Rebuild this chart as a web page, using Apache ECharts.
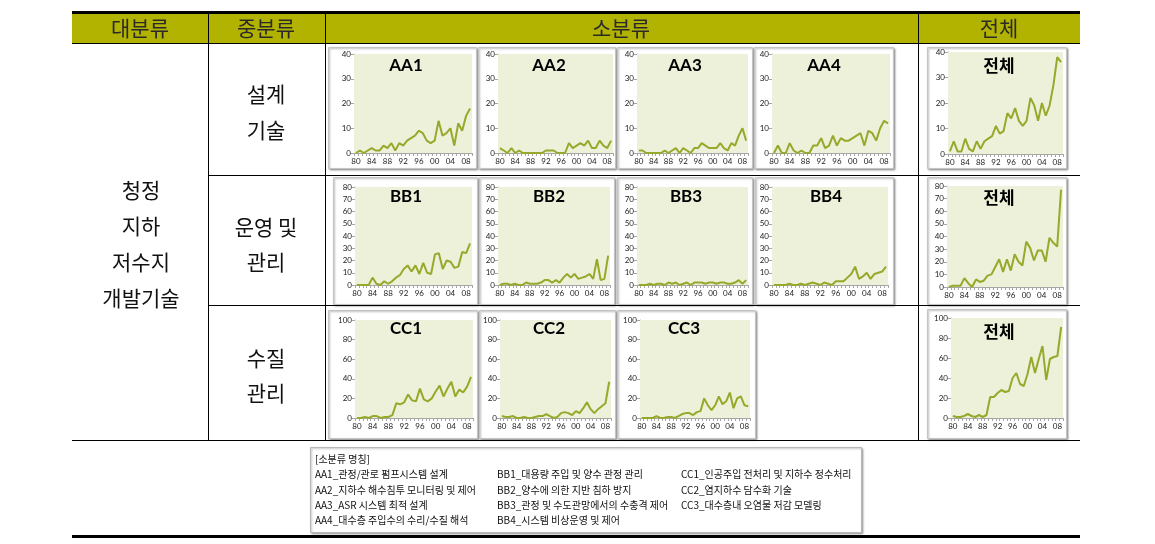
<!DOCTYPE html>
<html><head><meta charset="utf-8">
<script src="https://cdn.jsdelivr.net/npm/echarts@6/dist/echarts.min.js"></script>
<style>html,body{margin:0;padding:0;background:#fff}#c{width:1155px;height:544px}</style>
</head><body><div id="c"></div>
<script>
// ---- data ----
const years = ['80','81','82','83','84','85','86','87','88','89','90','91','92','93','94','95','96','97','98','99','00','01','02','03','04','05','06','07','08','09'];
const AA1 = [0,1,0,1,2,1,1,3,2,4,1,4,3,5,6,7,9,8,5,4,5,13,7,8,10,3,12,9,15,18];
const AA2 = [2,1,0,2,0,1,0,0,0,0,0,0,1,1,1,0,0,0,4,2,3,4,3,5,2,2,5,3,2,5];
const AA3 = [1,1,0,0,0,0,0,1,0,1,2,0,2,1,0,2,2,4,3,2,2,2,4,2,1,4,3,7,10,5];
const AA4 = [0,3,0,0,4,1,0,1,0,0,3,3,6,2,3,7,3,6,5,5,6,7,8,3,9,8,5,10,13,12];
const TOT_A = [1,5,1,1,6,2,1,5,2,5,6,7,11,8,9,16,14,18,13,11,13,22,19,13,20,15,19,27,38,36];
const BB1 = [0,0,0,0,6,1,0,3,1,3,6,8,13,16,11,16,9,18,10,9,25,26,13,20,19,14,15,27,26,34];
const BB2 = [0,1,1,0,1,0,0,2,1,1,1,2,4,4,2,4,2,6,9,6,9,5,6,7,9,5,21,4,5,24];
const BB3 = [0,0,0,1,0,1,1,0,2,1,2,0,1,2,0,2,2,2,1,2,2,1,2,2,1,1,2,4,1,4];
const BB4 = [0,0,0,0,1,0,0,1,0,1,2,1,0,2,1,0,3,3,3,6,9,15,5,7,10,5,9,10,11,15];
const TOT_B = [0,1,1,1,7,3,0,6,4,5,9,10,16,22,12,22,13,26,20,17,36,31,21,29,29,20,39,35,32,77];
const CC1 = [0,0,1,0,2,2,0,1,1,3,15,14,16,24,18,17,30,19,17,20,27,33,22,30,37,22,29,26,32,42];
const CC2 = [2,1,1,2,0,0,1,0,0,1,2,2,4,2,0,1,5,6,5,3,7,5,10,16,9,5,9,12,15,37];
const CC3 = [0,0,0,0,2,0,0,1,1,0,2,4,5,5,3,6,7,20,13,8,13,22,14,17,26,10,20,22,13,12];
const TOT_C = [2,1,1,2,4,2,1,3,1,3,21,21,25,28,26,27,40,45,34,32,44,61,45,59,72,38,59,61,62,91];

const headers = ['대분류','중분류','소분류','전체'];
const majorLines = ['청정','지하','저수지','개발기술'];
const midLines = [['설계','기술'],['운영 및','관리'],['수질','관리']];
const legendTitle = '[소분류 명칭]';
const legendA = ['AA1_관정/관로 펌프시스템 설계','AA2_지하수 해수침투 모니터링 및 제어','AA3_ASR 시스템 최적 설계','AA4_대수층 주입수의 수리/수질 해석'];
const legendB = ['BB1_대용량 주입 및 양수 관정 관리','BB2_양수에 의한 지반 침하 방지','BB3_관정 및 수도관망에서의 수충격 제어','BB4_시스템 비상운영 및 제어'];
const legendC = ['CC1_인공주입 전처리 및 지하수 정수처리','CC2_염지하수 담수화 기술','CC3_대수층내 오염물 저감 모델링'];

// ---- layout (positions only) ----
const panels = [
 {name:'AA1', data:AA1, max:40, step:10, g:[354,54,118,99], b:[328,47,148,121], t:[406,66]},
 {name:'AA2', data:AA2, max:40, step:10, g:[498,54,115,99], b:[478,47,137,121], t:[549,66]},
 {name:'AA3', data:AA3, max:40, step:10, g:[637,54,111,99], b:[617,47,135,121], t:[685,66]},
 {name:'AA4', data:AA4, max:40, step:10, g:[772,54,118,99], b:[754,47,139,121], t:[824,66]},
 {name:'전체', data:TOT_A, max:40, step:10, g:[948,52,115,102], b:[927,47,139,121], t:[999,66]},
 {name:'BB1', data:BB1, max:80, step:10, g:[355,187,117,98], b:[333,177,144,127], t:[406,197]},
 {name:'BB2', data:BB2, max:80, step:10, g:[498,187,112,98], b:[479,177,135,127], t:[549,197]},
 {name:'BB3', data:BB3, max:80, step:10, g:[637,187,111,98], b:[617,177,135,127], t:[686,197]},
 {name:'BB4', data:BB4, max:80, step:10, g:[772,187,116,98], b:[755,177,138,127], t:[826,197]},
 {name:'전체', data:TOT_B, max:80, step:10, g:[947,186,116,101], b:[927,177,139,127], t:[999,198]},
 {name:'CC1', data:CC1, max:100, step:20, g:[355,320,118,98], b:[328,310,149,128], t:[406,329]},
 {name:'CC2', data:CC2, max:100, step:20, g:[500,320,111,98], b:[479,310,136,128], t:[549,329]},
 {name:'CC3', data:CC3, max:100, step:20, g:[640,320,110,98], b:[617,310,138,128], t:[684,329]},
 {name:'전체', data:TOT_C, max:100, step:20, g:[951,318,112,100], b:[927,309,139,129], t:[999,332]}
];

const KR = '"Noto Sans CJK KR"';
const LINE = '#97a82a';
const AX = '#a6a6a6';

const grid=[], xAxis=[], yAxis=[], series=[], graphic=[];
function txt(x,y,s,font,fill,align,z){
  graphic.push({type:'text', z:z||20, style:{text:s, x:x, y:y, font:font, fill:fill||'#222',
    textAlign:align||'center', align:align||'center', textVerticalAlign:'middle', verticalAlign:'middle'}});
}
function ln(x1,y1,x2,y2,w,c){
  graphic.push({type:'line', z:15, shape:{x1:x1,y1:y1,x2:x2,y2:y2}, style:{stroke:c||'#000', lineWidth:w||1}});
}
function rc(x,y,w,h,style,z){
  graphic.push({type:'rect', z:z, shape:{x:x,y:y,width:w,height:h}, style:style});
}

panels.forEach((p,i)=>{
  grid.push({left:p.g[0], top:p.g[1], width:p.g[2], height:p.g[3], show:true, backgroundColor:'#edf1da', borderWidth:0, z:1});
  xAxis.push({type:'category', gridIndex:i, data:years, boundaryGap:true,
    axisLine:{lineStyle:{color:AX, width:1}},
    axisTick:{show:true, interval:0, length:3, lineStyle:{color:AX}},
    axisLabel:{interval:3, fontSize:8, color:'#222', margin:4, fontFamily:'Lato'},
    splitLine:{show:false}});
  yAxis.push({type:'value', gridIndex:i, min:0, max:p.max, interval:p.step,
    axisLine:{show:true, lineStyle:{color:AX, width:1}},
    axisTick:{show:true, length:3, lineStyle:{color:AX}},
    axisLabel:{fontSize:8, color:'#222', margin:3, fontFamily:'Lato'},
    splitLine:{show:false}});
  series.push({type:'line', xAxisIndex:i, yAxisIndex:i, data:p.data, showSymbol:false, symbol:'none',
    lineStyle:{color:LINE, width:2}, itemStyle:{color:LINE}, z:5, animation:false});
  rc(p.b[0]+0.5, p.b[1]+0.5, p.b[2], p.b[3], {fill:'#fff', stroke:'#c4c4c4', lineWidth:1,
    shadowBlur:2, shadowOffsetX:1, shadowOffsetY:1, shadowColor:'rgba(0,0,0,0.35)'}, -5);
  const isKr = /[가-힣]/.test(p.name);
  txt(p.t[0], p.t[1], p.name, isKr ? ('bold 17px '+KR) : 'bold 17px Lato', '#000', 'center', 20);
});

// ---- table frame ----
rc(72, 11, 1008, 3, {fill:'#000'}, 15);
rc(72, 14, 1008, 29, {fill:'#b2b200'}, 10);
ln(72, 43.5, 1080, 43.5, 1);
[208.5, 325.5, 918.5].forEach(x=>ln(x, 14, x, 440, 1));
ln(208, 175.5, 1080, 175.5, 1);
ln(208, 305.5, 1080, 305.5, 1);
ln(72, 440.5, 1080, 440.5, 1);
rc(72, 535, 1008, 3, {fill:'#000'}, 15);

const hx = [140, 266, 621, 999];
headers.forEach((h,i)=>txt(hx[i], 28, h, '21px '+KR, '#2a2a2a', 'center'));
const my = [190, 226, 262, 298];
majorLines.forEach((s,i)=>txt(141, my[i], s, '21px '+KR, '#111', 'center'));
const midY = [[94,130],[227,262],[358,393]];
midLines.forEach((pair,i)=>pair.forEach((s,j)=>txt(266, midY[i][j], s, '21px '+KR, '#111', 'center')));

// ---- legend ----
rc(310.5, 447.5, 551, 85, {fill:'#fff', stroke:'#b8b8b8', lineWidth:1,
  shadowBlur:2, shadowOffsetX:1, shadowOffsetY:1, shadowColor:'rgba(0,0,0,0.3)'}, 5);
txt(315, 459, legendTitle, '10px '+KR, '#111', 'left');
const ly = [474, 490, 505, 520];
legendA.forEach((s,i)=>txt(315, ly[i], s, '10px '+KR, '#111', 'left'));
legendB.forEach((s,i)=>txt(497, ly[i], s, '10px '+KR, '#111', 'left'));
legendC.forEach((s,i)=>txt(681, ly[i], s, '10px '+KR, '#111', 'left'));

const chart = echarts.init(document.getElementById('c'), null, {renderer:'canvas'});
chart.setOption({animation:false, backgroundColor:'#fff', grid, xAxis, yAxis, series, graphic});
</script></body></html>
